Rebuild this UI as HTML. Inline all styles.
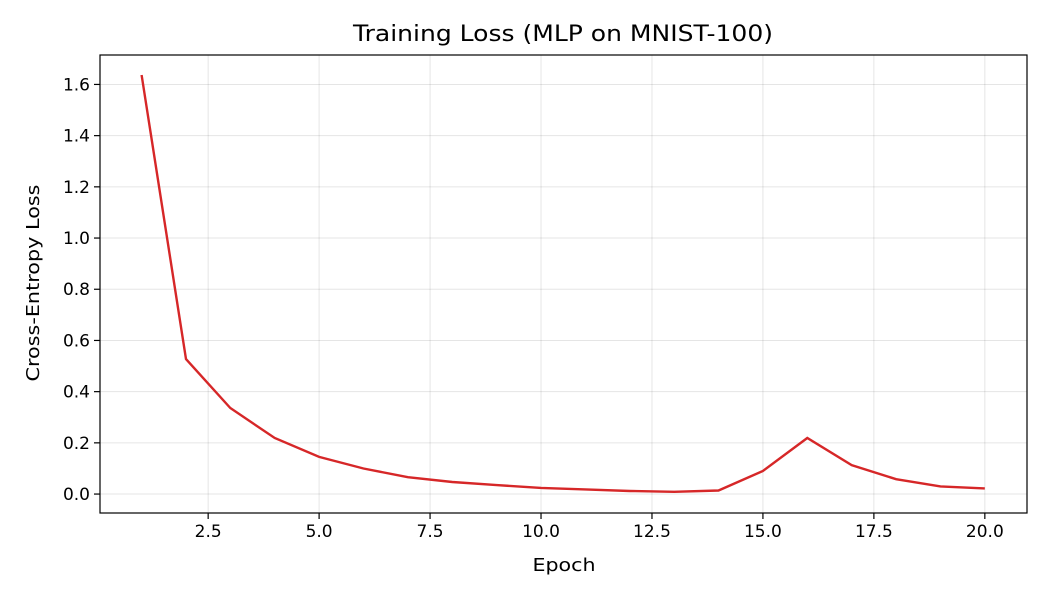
<!DOCTYPE html>
<html><head><meta charset="utf-8"><style>
body{margin:0;background:#fff;font-family:"Liberation Sans","DejaVu Sans",sans-serif;}
svg text{font-family:"DejaVu Sans","Liberation Sans",sans-serif;}
</style></head><body>
<svg id="chart" width="1050" height="600" xmlns="http://www.w3.org/2000/svg">
<rect width="1050" height="600" fill="#fff"/>
<g id="grid"></g>
<g id="ticks"></g>
<path id="line" fill="none" stroke="#d62728" stroke-width="2.4"/>
<rect x="100" y="55" width="927" height="458" fill="none" stroke="#000" stroke-width="1.2"/>
<text x="563" y="41" text-anchor="middle" font-size="22.5" textLength="420" lengthAdjust="spacingAndGlyphs">Training Loss (MLP on MNIST-100)</text>
<text x="564" y="571" text-anchor="middle" font-size="18" textLength="63" lengthAdjust="spacingAndGlyphs">Epoch</text>
<text transform="translate(39,283) rotate(-90)" text-anchor="middle" font-size="18" textLength="197" lengthAdjust="spacingAndGlyphs">Cross-Entropy Loss</text>
</svg>
<script>
const epochs=[1,2,3,4,5,6,7,8,9,10,11,12,13,14,15,16,17,18,19,20];
const losses=[1.637,0.527,0.336,0.219,0.145,0.100,0.066,0.047,0.035,0.024,0.018,0.012,0.009,0.014,0.090,0.219,0.113,0.058,0.030,0.022];
const xTicks=[2.5,5.0,7.5,10.0,12.5,15.0,17.5,20.0];
const yTicks=[0.0,0.2,0.4,0.6,0.8,1.0,1.2,1.4,1.6];
const X0=100,X1=1027,Y0=55,Y1=513;
const xMin=0.063,xMax=20.95,yMin=-0.074,yMax=1.715;
const sx=v=>X0+(v-xMin)/(xMax-xMin)*(X1-X0);
const sy=v=>Y1-(v-yMin)/(yMax-yMin)*(Y1-Y0);
const NS="http://www.w3.org/2000/svg";
const grid=document.getElementById('grid'),ticks=document.getElementById('ticks');
function mk(tag,attrs,parent){const e=document.createElementNS(NS,tag);for(const k in attrs)e.setAttribute(k,attrs[k]);parent.appendChild(e);return e;}
xTicks.forEach(t=>{const x=sx(t);
 const g=mk('line',{x1:x,x2:x,y1:Y0,y2:Y1,stroke:'#000','stroke-opacity':0.1,'stroke-width':1},grid);
 
 
 const tk=mk('line',{x1:x,x2:x,y1:Y1,y2:Y1+6,stroke:'#000','stroke-width':1.2},ticks);
 
 
 const l=mk('text',{x:x,y:Y1+24,'text-anchor':'middle','font-size':17},ticks);l.textContent=t.toFixed(1);
 
 
});
yTicks.forEach(t=>{const y=sy(t);
 const g=mk('line',{x1:X0,x2:X1,y1:y,y2:y,stroke:'#000','stroke-opacity':0.1,'stroke-width':1},grid);
 
 
 const tk=mk('line',{x1:X0-6,x2:X0,y1:y,y2:y,stroke:'#000','stroke-width':1.2},ticks);
 
 
 const l=mk('text',{x:X0-10,y:y+6,'text-anchor':'end','font-size':17},ticks);l.textContent=t.toFixed(1);
 
 
});
document.getElementById('line').setAttribute('d',epochs.map((e,i)=>(i?'L':'M')+sx(e).toFixed(1)+','+sy(losses[i]).toFixed(1)).join(''));
</script>
</body></html>
